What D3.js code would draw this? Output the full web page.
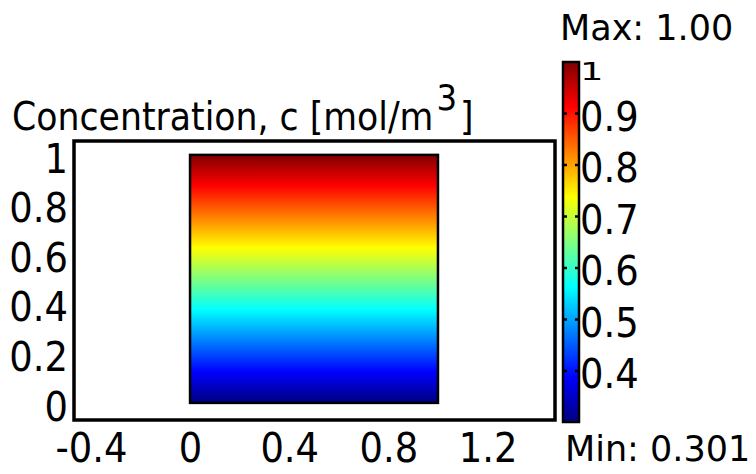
<!DOCTYPE html>
<html>
<head>
<meta charset="utf-8">
<title>Concentration</title>
<script src="https://cdn.jsdelivr.net/npm/d3@7"></script>
<style>
  body { margin: 0; background: white; }
  svg { display: block; }
  text { font-family: "DejaVu Sans Condensed", "DejaVu Sans", sans-serif; fill: black; }
  text.minmax { font-family: "DejaVu Sans", sans-serif; }
</style>
</head>
<body>
<svg id="chart" width="756" height="474"></svg>
<script>
// data
const xTicks = [-0.4, 0, 0.4, 0.8, 1.2];
const yTicks = [0, 0.2, 0.4, 0.6, 0.8, 1];
const cbTicks = [0.4, 0.5, 0.6, 0.7, 0.8, 0.9, 1];
const xLim = [-0.468, 1.472];
const yLim = [-0.069, 1.056];
const domainX = [0, 1];
const domainY = [0, 1];
const cRange = [0.301, 1.0];   // c at y=0 and y=1 (linear in y)

const svg = d3.select("#chart");

const x = d3.scaleLinear().domain(xLim).range([74, 555]);
const y = d3.scaleLinear().domain(yLim).range([420, 141]);
const cb = d3.scaleLinear().domain(cRange).range([422, 62]);

// jet colour map, t in [0,1]
function jet(t) {
    let f = v => Math.max(0, Math.min(1, v));
    let r = f(1.5 - Math.abs(4*t - 3));
    let g = f(1.5 - Math.abs(4*t - 2));
    let b = f(1.5 - Math.abs(4*t - 1));
    return d3.rgb(r*255, g*255, b*255).toString();
}
const jetStops = [0, 1/8, 3/8, 5/8, 7/8, 1];

let defs = svg.append("defs");
let grad = defs.append("linearGradient")
    .attr("id", "jetGrad")
    .attr("x1", 0).attr("y1", 1).attr("x2", 0).attr("y2", 0);
grad.selectAll("stop").data(jetStops).enter().append("stop")
    .attr("offset", d => d)
    .attr("stop-color", d => jet(d));

// title
let title = svg.append("text")
    .attr("x", 12).attr("y", 130)
    .attr("font-size", 38.6);
title.append("tspan").text("Concentration, c [mol/m");
title.append("tspan").attr("dx", 3).attr("dy", -20).attr("font-size", 36).text("3");
title.append("tspan").attr("dx", 3).attr("dy", 20).text("]");

// field on the unit square
svg.append("rect")
    .attr("x", x(domainX[0])).attr("y", y(domainY[1]))
    .attr("width", x(domainX[1]) - x(domainX[0]))
    .attr("height", y(domainY[0]) - y(domainY[1]))
    .attr("fill", "url(#jetGrad)")
    .attr("stroke", "black").attr("stroke-width", 2.5);

// axes frame
svg.append("rect")
    .attr("x", x(xLim[0])).attr("y", y(yLim[1]))
    .attr("width", x(xLim[1]) - x(xLim[0]))
    .attr("height", y(yLim[0]) - y(yLim[1]))
    .attr("fill", "none")
    .attr("stroke", "black").attr("stroke-width", 3.5);

const fmt = d => String(d);

let gx = svg.append("g")
    .attr("transform", `translate(0,${y(yLim[0])})`)
    .call(d3.axisBottom(x).tickValues(xTicks).tickFormat(fmt).tickSize(0).tickPadding(0));
gx.select(".domain").remove();
gx.selectAll("text")
    .attr("font-size", 41).attr("font-family", null).attr("fill", "black")
    .attr("dy", null).attr("y", 42);

let gy = svg.append("g")
    .attr("transform", `translate(${x(xLim[0])},0)`)
    .call(d3.axisLeft(y).tickValues(yTicks).tickFormat(fmt).tickSize(0).tickPadding(6));
gy.select(".domain").remove();
gy.selectAll("text")
    .attr("font-size", 41).attr("font-family", null).attr("fill", "black")
    .attr("dy", "0.42em");

// colour bar
let cbx = 563, cbw = 16;
svg.append("rect")
    .attr("x", cbx).attr("y", cb(cRange[1]))
    .attr("width", cbw).attr("height", cb(cRange[0]) - cb(cRange[1]))
    .attr("fill", "url(#jetGrad)")
    .attr("stroke", "black").attr("stroke-width", 2.5);

let cbTickG = svg.append("g");
cbTickG.selectAll("line.l").data(cbTicks.slice(0, -1)).enter().append("line")
    .attr("x1", cbx).attr("x2", cbx + 4)
    .attr("y1", d => cb(d)).attr("y2", d => cb(d))
    .attr("stroke", "black").attr("stroke-width", 2.5);
cbTickG.selectAll("line.r").data(cbTicks.slice(0, -1)).enter().append("line")
    .attr("x1", cbx + cbw - 4).attr("x2", cbx + cbw)
    .attr("y1", d => cb(d)).attr("y2", d => cb(d))
    .attr("stroke", "black").attr("stroke-width", 2.5);

// top label is squeezed to stay within the bar's height
svg.append("g")
    .selectAll("text").data(cbTicks).enter().append("text")
    .attr("transform", d => d === cRange[1]
        ? `translate(${cbx + cbw + 1},${cb(d) + 18}) scale(1,0.62)`
        : `translate(${cbx + cbw + 1},${cb(d) + 17})`)
    .attr("font-size", 41)
    .text(fmt);

svg.append("text").attr("class", "minmax")
    .attr("x", 560).attr("y", 40).attr("font-size", 35)
    .text("Max: " + cRange[1].toFixed(2));
svg.append("text").attr("class", "minmax")
    .attr("x", 565).attr("y", 461).attr("font-size", 35)
    .text("Min: " + cRange[0].toFixed(3));
</script>
</body>
</html>
